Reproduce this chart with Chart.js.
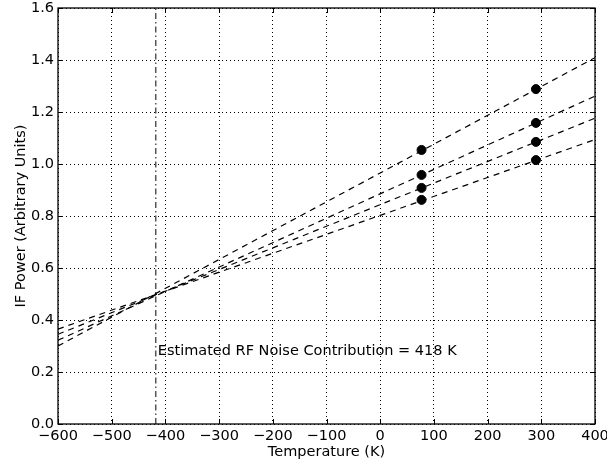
<!DOCTYPE html>
<html>
<head>
<meta charset="utf-8">
<script src="https://cdn.jsdelivr.net/npm/chart.js@4.4.0/dist/chart.umd.min.js"></script>
<style>
  html, body { margin: 0; padding: 0; background: #fff; }
  #wrap { width: 607px; height: 465px; }
</style>
</head>
<body>
<div id="wrap"><canvas id="grafico"></canvas></div>
<script>
// temperaturas medidas (K)
var temperaturas = [77, 290]
// potencia IF medida em cada carga
var serie1 = [1.054, 1.288]
var serie2 = [0.958, 1.158]
var serie3 = [0.908, 1.085]
var serie4 = [0.862, 1.015]
var bordasX = [-600, 400]
var reta1 = [0.300, 1.409]
var reta2 = [0.322, 1.261]
var reta3 = [0.345, 1.176]
var reta4 = [0.365, 1.094]
// ruido estimado
var ruidoX = -418
var textoRuido = "Estimated RF Noise Contribution = 418 K"
var textoY = 0.265

var fonte = "DejaVu Sans"
var tamanho = 14.5

function pontos(xs, ys) {
    return xs.map((x, i) => ({ x: x, y: ys[i] }))
}

function reta(ys) {
    return {
        type: 'line',
        data: pontos(bordasX, ys),
        borderColor: 'black',
        borderWidth: 1.2,
        borderDash: [6, 5],
        pointRadius: 0,
        fill: false,
    }
}

function marcas(ys) {
    return {
        type: 'scatter',
        data: pontos(temperaturas, ys),
        backgroundColor: 'black',
        borderColor: 'black',
        pointRadius: 4.5,
    }
}

// ticks para dentro, moldura e texto da anotacao
var extras = {
    id: 'extras',
    afterDatasetsDraw(chart) {
        var ctx = chart.ctx
        var a = chart.chartArea
        var sx = chart.scales.x
        var sy = chart.scales.y
        ctx.save()
        ctx.strokeStyle = 'black'
        ctx.lineWidth = 1
        ctx.beginPath()
        sx.ticks.forEach(t => {
            var px = Math.round(sx.getPixelForValue(t.value)) + 0.5
            ctx.moveTo(px, a.bottom); ctx.lineTo(px, a.bottom - 5)
            ctx.moveTo(px, a.top); ctx.lineTo(px, a.top + 5)
        })
        sy.ticks.forEach(t => {
            var py = Math.round(sy.getPixelForValue(t.value)) + 0.5
            ctx.moveTo(a.left, py); ctx.lineTo(a.left + 5, py)
            ctx.moveTo(a.right, py); ctx.lineTo(a.right - 5, py)
        })
        ctx.stroke()
        ctx.lineWidth = 1.3
        ctx.strokeRect(a.left, a.top, a.right - a.left, a.bottom - a.top)
        ctx.fillStyle = 'black'
        ctx.font = tamanho + 'px "' + fonte + '"'
        ctx.textAlign = 'left'
        ctx.textBaseline = 'alphabetic'
        ctx.fillText(textoRuido, sx.getPixelForValue(ruidoX) + 2, sy.getPixelForValue(textoY))
        ctx.restore()
    }
}

var canvas = document.getElementById("grafico")

var grafico = new Chart(canvas, {
    data: {
        datasets: [
            reta(reta1), reta(reta2), reta(reta3), reta(reta4),
            marcas(serie1), marcas(serie2), marcas(serie3), marcas(serie4),
            {
                type: 'line',
                data: [{ x: ruidoX, y: 0 }, { x: ruidoX, y: 1.6 }],
                borderColor: '#555',
                borderWidth: 1.5,
                borderDash: [6, 3, 1.5, 3],
                pointRadius: 0,
            },
        ],
    },
    options: {
        responsive: true,
        maintainAspectRatio: false,
        animation: false,
        layout: { padding: { top: 8, right: 12, left: 0, bottom: 0 } },
        plugins: {
            legend: { display: false },
            tooltip: { enabled: false },
        },
        scales: {
            x: {
                type: 'linear',
                min: -600,
                max: 400,
                afterFit: function (s) {
                    s.height = 41
                    s.paddingLeft = 0
                    s.paddingRight = 0
                },
                ticks: {
                    stepSize: 100,
                    color: 'black',
                    padding: 4,
                    maxRotation: 0,
                    font: { family: fonte, size: tamanho },
                    callback: v => String(v).replace('-', '\u2212'),
                },
                grid: {
                    color: 'black',
                    lineWidth: 1,
                    drawTicks: false,
                    tickLength: 0,
                },
                border: { display: false, dash: [1, 3] },
                title: {
                    display: true,
                    text: 'Temperature (K)',
                    color: 'black',
                    padding: { top: 0, bottom: 4 },
                    font: { family: fonte, size: tamanho },
                },
            },
            y: {
                type: 'linear',
                min: 0,
                max: 1.6,
                afterFit: function (s) {
                    s.width = 58
                    s.paddingTop = 0
                    s.paddingBottom = 0
                },
                ticks: {
                    stepSize: 0.2,
                    color: 'black',
                    padding: 4,
                    font: { family: fonte, size: tamanho },
                    callback: v => v.toFixed(1),
                },
                grid: {
                    color: 'black',
                    lineWidth: 1,
                    drawTicks: false,
                    tickLength: 0,
                },
                border: { display: false, dash: [1, 3] },
                title: {
                    display: true,
                    text: 'IF Power (Arbitrary Units)',
                    color: 'black',
                    padding: { top: 13, bottom: 0 },
                    font: { family: fonte, size: tamanho },
                },
            },
        },
    },
    plugins: [extras],
})
</script>
</body>
</html>
